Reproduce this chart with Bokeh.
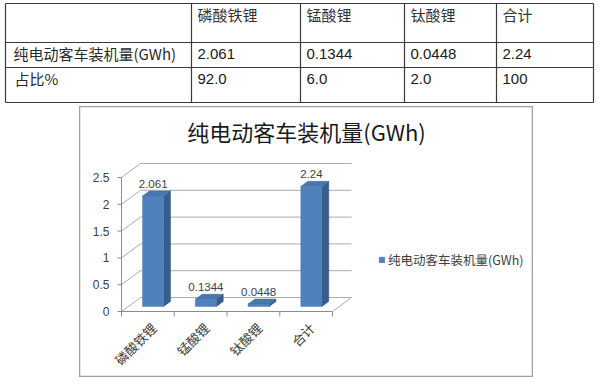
import math
from bokeh.plotting import figure
from bokeh.models import Range1d, Spacer, Legend, LegendItem
from bokeh.layouts import column, row
from bokeh.embed import file_html
from bokeh.resources import INLINE
from bokeh.core.properties import value

# ---------------- data ----------------
categories = ["磷酸铁锂", "锰酸锂", "钛酸锂", "合计"]
series_name = "纯电动客车装机量(GWh)"
capacity_gwh = [2.061, 0.1344, 0.0448, 2.24]
capacity_text = ["2.061", "0.1344", "0.0448", "2.24"]
share_name = "占比%"
share_text = ["92.0", "6.0", "2.0", "100"]
y_ticks = [0, 0.5, 1, 1.5, 2, 2.5]
y_tick_labels = ["0", "0.5", "1", "1.5", "2", "2.5"]
chart_title = "纯电动客车装机量(GWh)"

CJK = "Noto Sans CJK SC"
LAT = "Liberation Sans"
n = len(categories)

# ---------------- table ----------------
TW, TH = 598, 106
COL_EDGES = [5, 191, 300, 404, 496, 593]
ROW_EDGES = [3, 42, 67, 102]
ROW_TEXT_Y = [14, 53, 78]
PAD = 6

tbl = figure(width=TW, height=TH, x_range=Range1d(0, TW), y_range=Range1d(TH, 0),
             toolbar_location=None, output_backend="svg",
             x_axis_type=None, y_axis_type=None, min_border=0,
             outline_line_color=None, background_fill_color="white",
             border_fill_color="white")
tbl.xgrid.visible = False
tbl.ygrid.visible = False

tbl.segment(x0=COL_EDGES, y0=[ROW_EDGES[0]] * len(COL_EDGES),
            x1=COL_EDGES, y1=[ROW_EDGES[-1]] * len(COL_EDGES),
            line_color="#3a3a3a", line_width=1.2)
tbl.segment(x0=[COL_EDGES[0]] * len(ROW_EDGES), y0=ROW_EDGES,
            x1=[COL_EDGES[-1]] * len(ROW_EDGES), y1=ROW_EDGES,
            line_color="#3a3a3a", line_width=1.2)

data_x = [COL_EDGES[i + 1] + PAD for i in range(n)]
tbl.text(x=data_x, y=[ROW_TEXT_Y[0]] * n, text=categories,
         text_font=value(CJK), text_font_size="15px", text_color="#333333",
         text_align="left", text_baseline="middle")
tbl.text(x=[COL_EDGES[0] + 8, COL_EDGES[0] + 9], y=ROW_TEXT_Y[1:],
         text=[series_name, share_name],
         text_font=value(CJK), text_font_size="15px", text_color="#2a2a2a",
         text_align="left", text_baseline="middle")
tbl.text(x=data_x, y=[ROW_TEXT_Y[1]] * n, text=capacity_text,
         text_font=value(LAT), text_font_size="15px", text_color="#1a1a1a",
         text_align="left", text_baseline="middle")
tbl.text(x=data_x, y=[ROW_TEXT_Y[2]] * n, text=share_text,
         text_font=value(LAT), text_font_size="15px", text_color="#1a1a1a",
         text_align="left", text_baseline="middle")

# ---------------- 3D-style column chart ----------------
CW, CH = 454, 271
XS, YS = 52.75, 53.6          # px per category, px per GWh
X0PX, Y0PX = 42, 205          # screen position of the front-left origin
cx = Range1d(-X0PX / XS, (CW - X0PX) / XS)
cy = Range1d(-(CH - Y0PX) / YS, Y0PX / YS)
DX, DY = 19 / XS, 14 / YS     # full depth offset of the box
F0, F1 = 0.36, 0.72           # bar depth placement (fractions of the depth)
BX0, BW = 0.27, 0.40          # bar left offset and width (category units)
GRID = "#ABABAB"
AXIS = "#8C8C8C"

p = figure(width=CW, height=CH, x_range=cx, y_range=cy,
           toolbar_location=None, output_backend="svg",
           x_axis_type=None, y_axis_type=None, min_border=0,
           outline_line_color="#A0A0A0", outline_line_width=1.5,
           background_fill_color="white", border_fill_color="white")
p.xgrid.visible = False
p.ygrid.visible = False

ymax = y_ticks[-1]
# back wall gridlines
p.segment(x0=[DX] * len(y_ticks), y0=[v + DY for v in y_ticks],
          x1=[n + DX] * len(y_ticks), y1=[v + DY for v in y_ticks],
          line_color=GRID, line_width=1)
# side wall diagonals
p.segment(x0=[0] * len(y_ticks), y0=y_ticks,
          x1=[DX] * len(y_ticks), y1=[v + DY for v in y_ticks],
          line_color=GRID, line_width=1)
# floor right edge
p.segment(x0=[n], y0=[0], x1=[n + DX], y1=[DY], line_color=GRID, line_width=1)
# axes
p.segment(x0=[0], y0=[0], x1=[0], y1=[ymax], line_color=AXIS, line_width=1)
p.segment(x0=[0], y0=[0], x1=[n], y1=[0], line_color=AXIS, line_width=1)
p.segment(x0=[-4 / XS] * len(y_ticks), y0=y_ticks, x1=[0] * len(y_ticks), y1=y_ticks,
          line_color=AXIS, line_width=1)
p.segment(x0=list(range(n + 1)), y0=[0] * (n + 1), x1=list(range(n + 1)),
          y1=[-5 / YS] * (n + 1), line_color=AXIS, line_width=1)

# bars
xl = [i + BX0 + F0 * DX for i in range(n)]
xr = [x + BW for x in xl]
yb = F0 * DY
ddx, ddy = (F1 - F0) * DX, (F1 - F0) * DY
tops = [yb + v for v in capacity_gwh]
p.patches(xs=[[r, r + ddx, r + ddx, r] for r in xr],
          ys=[[yb, yb + ddy, t + ddy, t] for t in tops],
          fill_color="#385D8A", line_color="#34567F", line_width=0.5)
p.patches(xs=[[l, r, r + ddx, l + ddx] for l, r in zip(xl, xr)],
          ys=[[t, t, t + ddy, t + ddy] for t in tops],
          fill_color="#4876AE", line_color="#40699C", line_width=0.5)
front = p.quad(left=xl, right=xr, bottom=[yb] * n, top=tops,
               fill_color="#4F81BD", line_color="#4A7AB3", line_width=0.5)

# data labels
p.text(x=[(l + r) / 2 for l, r in zip(xl, xr)], y=[t + ddy for t in tops],
       text=capacity_text, y_offset=-3,
       text_font=value(LAT), text_font_size="11.5px", text_color="#404040",
       text_align="center", text_baseline="bottom")

# y tick labels
p.text(x=[0] * len(y_ticks), y=y_ticks, text=y_tick_labels, x_offset=-12,
       text_font=value(LAT), text_font_size="12px", text_color="#404040",
       text_align="right", text_baseline="middle")

# category labels
p.text(x=[i + 0.5 for i in range(n)], y=[0] * n, text=categories,
       angle=math.pi / 4, x_offset=6, y_offset=14,
       text_font=value(CJK), text_font_size="13px", text_color="#404040",
       text_align="right", text_baseline="middle")

# title
p.text(x=[(cx.start + cx.end) / 2], y=[cy.end], text=[chart_title], y_offset=24,
       text_font=value(CJK), text_font_size="22px", text_color="#1a1a1a",
       text_align="center", text_baseline="middle")

legend = Legend(items=[LegendItem(label=series_name, renderers=[front])],
                location=(299, 108), padding=0, margin=0, spacing=0,
                border_line_color=None, background_fill_alpha=0,
                glyph_width=7, glyph_height=7, label_standoff=3, label_height=14,
                label_text_font=CJK, label_text_font_size="12.5px",
                label_text_color="#404040")
p.add_layout(legend)

layout = column(tbl, row(Spacer(width=79, height=CH), p), spacing=0)

with open("out.html", "w") as f:
    f.write(file_html(layout, INLINE))
